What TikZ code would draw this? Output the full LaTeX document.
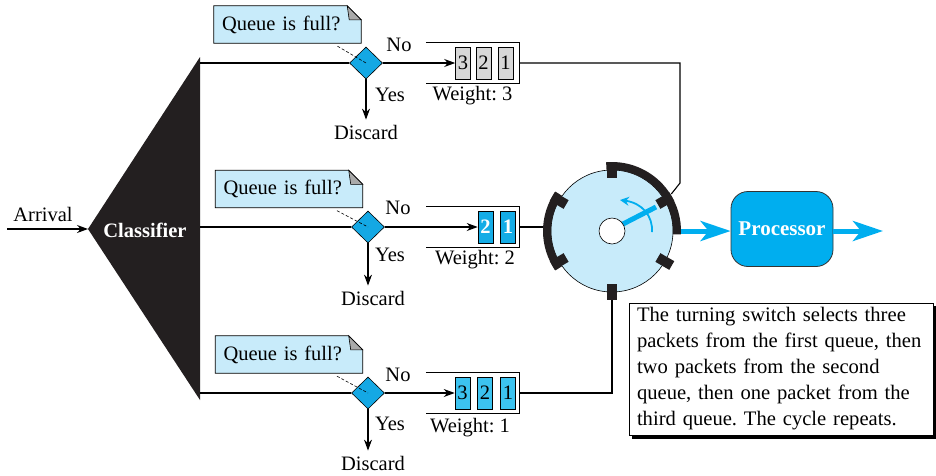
\documentclass[tikz,border=0pt]{standalone}
\usepackage{fontspec}
\setmainfont{Liberation Serif}
\usetikzlibrary{arrows.meta,shapes.geometric,backgrounds}
\frenchspacing
\definecolor{lblue}{RGB}{200,235,250}
\definecolor{diacol}{RGB}{20,168,228}
\definecolor{cellgray}{RGB}{215,215,215}
\definecolor{celldark}{RGB}{20,172,230}
\definecolor{celllight}{RGB}{60,195,240}
\definecolor{cyanarr}{RGB}{0,174,239}
\definecolor{clsblack}{RGB}{35,31,32}
\definecolor{foldgray}{RGB}{170,170,170}
\tikzset{
 line/.style={line width=1.1pt, draw=black},
 arr/.style={line, -{Stealth[length=11pt,width=8pt]}},
 dia/.style={diamond, draw, line width=0.6pt, fill=diacol, minimum width=33pt, minimum height=32pt, inner sep=0pt},
 cellbase/.style={draw, line width=0.6pt, minimum width=15pt, minimum height=32pt, inner sep=0pt},
 cellg/.style={cellbase, fill=cellgray},
 cellb/.style={cellbase, fill=celldark, text=white, font=\fontsize{20.5}{24}\selectfont\bfseries},
 celll/.style={cellbase, fill=celllight},
 qbox/.style={minimum width=93pt, minimum height=41pt, inner sep=0pt},
 cbox/.style={minimum width=147pt, minimum height=37pt, text width=131pt, align=left, inner xsep=8pt, inner ysep=0pt},
 lbl/.style={inner sep=0pt},
 bigarr/.style={draw=cyanarr, line width=5pt, -{Stealth[length=30pt,width=20pt,inset=8pt]}},
}
\newcommand{\qopen}[1]{\draw[line] (#1.north west) -- (#1.north east) -- (#1.south east) -- (#1.south west);}
\newcommand{\callout}[1]{%
 \begin{scope}[on background layer]
 \draw[line width=0.8pt, fill=lblue] (#1.north west) -- ([xshift=-14pt]#1.north east) -- ([yshift=-14pt]#1.north east) -- (#1.south east) -- (#1.south west) -- cycle;
 \draw[line width=0.6pt, fill=foldgray] ([xshift=-14pt]#1.north east) -- ([xshift=-12pt,yshift=-14pt]#1.north east) -- ([yshift=-14pt]#1.north east) -- cycle;
 \end{scope}}
\begin{document}
\begin{tikzpicture}[x=1pt,y=-1pt, every node/.style={font=\fontsize{20.5}{24}\selectfont, inner sep=0pt}]
\useasboundingbox (0,0) rectangle (936,475);

% classifier
\coordinate (apex) at (88,229);
\coordinate (ctop) at (200,57);
\coordinate (cbot) at (200,400);
\fill[clsblack] (apex) -- (ctop) -- (cbot) -- cycle;
\node[text=white, font=\fontsize{20.5}{24}\selectfont\bfseries] (cls) at (145,230) {Classifier};
\coordinate (arr0) at (7,229);
\draw[arr] (arr0) -- (apex);
\node[lbl] (arrival) at (43,214) {Arrival};

% row 1
\node[dia] (d1) at (366,63) {};
\node[cbox] (c1) at (287.5,24.5) {Queue is full?};
\callout{c1}
\node[qbox] (q1) at (472.5,63) {};
\qopen{q1}
\node[cellg] (q1c3) at (463,63) {3};
\node[cellg] (q1c2) at (483.5,63) {2};
\node[cellg] (q1c1) at (505.5,63) {1};
\node[lbl] (no1) at (399,45) {No};
\node[lbl] (yes1) at (390,95) {Yes};
\node[lbl] (dc1) at (366,132) {Discard};
\node[lbl] (w1) at (472.5,96) {Weight: 3};
\draw[line] (ctop |- d1) -- (d1.west);
\draw[arr] (d1.east) -- (q1c3.west);
\draw[arr] (d1.south) -- ([yshift=5pt]d1.south |- dc1.north);
\draw[line width=0.6pt, dash pattern=on 3pt off 2pt] ([xshift=50pt,yshift=-3pt]c1.south) -- (d1.center);

% row 2
\node[dia] (d2) at (368,227) {};
\node[cbox] (c2) at (289,189) {Queue is full?};
\callout{c2}
\node[qbox] (q2) at (473,227) {};
\qopen{q2}
\node[cellb] (q2c2) at (485.5,227) {2};
\node[cellb] (q2c1) at (508,227) {1};
\node[lbl] (no2) at (398,208) {No};
\node[lbl] (yes2) at (390,255) {Yes};
\node[lbl] (dc2) at (373,298) {Discard};
\node[lbl] (w2) at (475,260) {Weight: 2};
\draw[line] (ctop |- d2) -- (d2.west);
\draw[arr] (d2.east) -- (q2c2.west);
\draw[arr] (d2.south) -- ([yshift=5pt]d2.south |- dc2.north);
\draw[line width=0.6pt, dash pattern=on 3pt off 2pt] ([xshift=48pt,yshift=-3pt]c2.south) -- (d2.center);

% row 3
\node[dia] (d3) at (368,393) {};
\node[cbox] (c3) at (289,354.5) {Queue is full?};
\callout{c3}
\node[qbox] (q3) at (472.5,393) {};
\qopen{q3}
\node[celll] (q3c3) at (462.5,393) {3};
\node[celll] (q3c2) at (485,393) {2};
\node[celll] (q3c1) at (508,393) {1};
\node[lbl] (no3) at (398,375) {No};
\node[lbl] (yes3) at (390,424) {Yes};
\node[lbl] (dc3) at (373,463) {Discard};
\node[lbl] (w3) at (470,428) {Weight: 1};
\draw[line] (ctop |- d3) -- (d3.west);
\draw[arr] (d3.east) -- (q3c3.west);
\draw[arr] (d3.south) -- ([yshift=5pt]d3.south |- dc3.north);
\draw[line width=0.6pt, dash pattern=on 3pt off 2pt] ([xshift=48pt,yshift=-3pt]c3.south) -- (d3.center);

% switch
\node[circle, draw, line width=0.6pt, fill=lblue, minimum size=122pt] (sw) at (612,231) {};
\begin{scope}[shift={(sw.center)}, yscale=-1]
 \draw[line width=8pt, draw=clsblack] (95:65) arc[start angle=95, end angle=-3, radius=65];
 \draw[line width=8pt, draw=clsblack] (145:65) arc[start angle=145, end angle=215, radius=65];
 \foreach \a in {90,30,-30,-90,150,210} \fill[clsblack, rotate=\a] (53,-5) rectangle (69,5);
 \draw[draw=cyanarr, line width=5pt] (11,7) -- (44,24);
 \draw[draw=cyanarr, line width=1.8pt, -{Stealth[length=9pt,width=9pt]}] (40,-1) .. controls (41,15) and (30,28) .. (8,31);
 \coordinate (in1) at (32:70);
 \coordinate (in2) at (180:69);
 \coordinate (in3) at (-90:69);
 \coordinate (out) at (0:69);
\end{scope}
\node[circle, draw, line width=0.6pt, fill=white, minimum size=26pt] (hub) at (sw.center) {};

\coordinate (k1) at (680,63);
\coordinate (k2) at (680,183);
\draw[line] (q1.east) -- (k1) -- (k2) -- (in1);
\draw[line] (q2.east) -- (q2.east -| in2);
\draw[line] (q3.east) -| (in3);

% processor
\node[draw=black!80, line width=0.8pt, fill=cyanarr, rounded corners=17pt, minimum width=102pt, minimum height=75pt, text=white, font=\fontsize{21}{24}\selectfont\bfseries] (proc) at (782,229) {Processor};
\coordinate (outend) at (883,231);
\draw[bigarr] (out) -- (out -| proc.west);
\draw[bigarr] (proc.east |- outend) -- (outend);

% note
\node[draw, line width=0.8pt, fill=white, minimum width=304pt, minimum height=132pt, text width=288pt, inner xsep=8pt, align=left, font=\fontsize{20.6}{26}\selectfont] (note) at (781,369) {The turning switch selects three\\packets from the first queue, then\\two packets from the second\\queue, then one packet from the\\third queue. The cycle repeats.};
\begin{scope}[on background layer]
 \fill[black] ([shift={(3.5pt,-3.5pt)}]note.south west) rectangle ([shift={(3.5pt,-3.5pt)}]note.north east);
\end{scope}
\end{tikzpicture}
\end{document}
